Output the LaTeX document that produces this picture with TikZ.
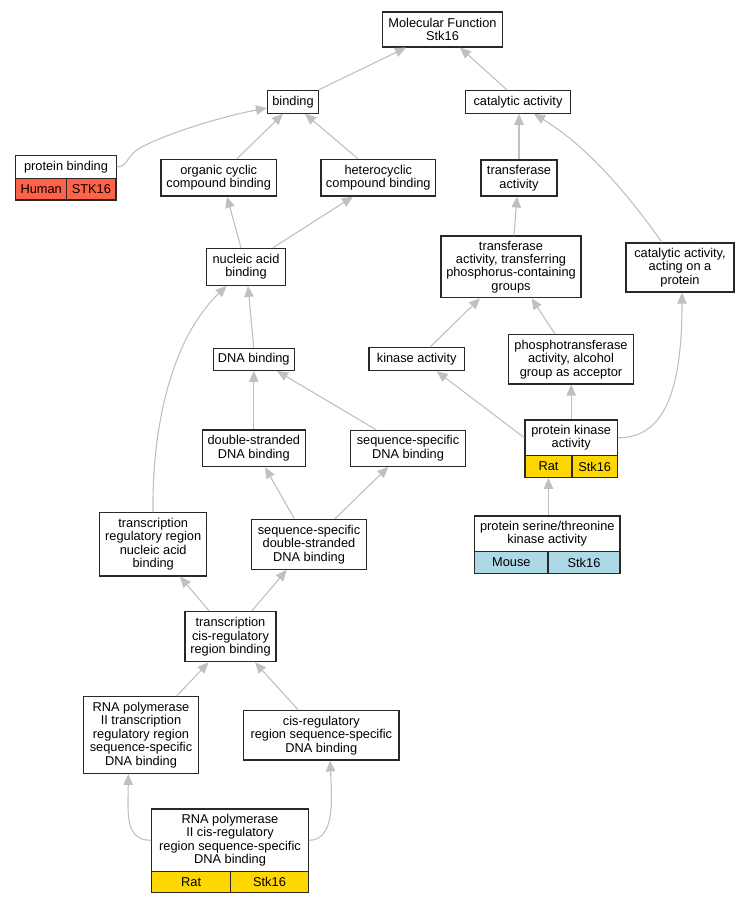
\documentclass[tikz,border=0pt]{standalone}
\usepackage{fontspec}
\setmainfont{Liberation Sans}
\usetikzlibrary{arrows.meta}
\definecolor{edgegray}{RGB}{192,192,192}
\definecolor{boxline}{RGB}{40,40,40}
\definecolor{tomatoc}{RGB}{255,99,71}
\definecolor{goldc}{RGB}{255,215,0}
\definecolor{lblue}{RGB}{173,216,230}
\begin{document}
\begin{tikzpicture}[x=1pt,y=-1pt,
  box/.style={draw=boxline, line width=1.2pt, fill=white, inner sep=0pt, align=center,
    font=\fontsize{12.8}{13.4}\selectfont},
  cell/.style={box},
  edge/.style={draw=edgegray, line width=1.1pt, -{Triangle[length=11pt,width=9.5pt,fill=edgegray]}}]
\useasboundingbox (0,0) rectangle (749,904);
% nodes
\node[box, minimum width=120pt, minimum height=35pt] (mf) at (442.5,29.5) {Molecular Function\\Stk16};
\node[box, minimum width=51pt, minimum height=23pt] (bind) at (293,101.7) {binding};
\node[box, minimum width=105.7pt, minimum height=23pt] (cat) at (518,101.7) {catalytic activity};
\node[box, minimum width=100.3pt, minimum height=22.6pt] (pb) at (66,167) {protein binding};
\node[cell, fill=tomatoc, minimum width=51pt, minimum height=21.7pt] (pbh) at (41.2,189.2) {Human};
\node[cell, fill=tomatoc, minimum width=49.3pt, minimum height=21.7pt] (pbs) at (91.35,189.2) {STK16};
\node[box, minimum width=115.3pt, minimum height=36.7pt] (org) at (218.7,177.7) {organic cyclic\\compound binding};
\node[box, minimum width=114.7pt, minimum height=36.7pt] (het) at (378.3,177.7) {heterocyclic\\compound binding};
\node[box, minimum width=76pt, minimum height=36pt] (tra) at (519,178) {transferase\\activity};
\node[box, minimum width=78.6pt, minimum height=37pt] (nuc) at (246,266.8) {nucleic acid\\binding};
\node[box, minimum width=140pt, minimum height=61.7pt] (trp) at (511,266.8) {transferase\\activity, transferring\\phosphorus-containing\\groups};
\node[box, minimum width=108pt, minimum height=49pt] (cap) at (680,267.5) {catalytic activity,\\acting on a\\protein};
\node[box, minimum width=81pt, minimum height=22pt] (dna) at (253.7,359.3) {DNA binding};
\node[box, minimum width=95.3pt, minimum height=23pt] (kin) at (416.7,359.2) {kinase activity};
\node[box, minimum width=124.3pt, minimum height=49.3pt] (pho) at (571,359.3) {phosphotransferase\\activity, alcohol\\group as acceptor};
\node[box, minimum width=103pt, minimum height=36.7pt] (ds) at (253.8,448.3) {double-stranded\\DNA binding};
\node[box, minimum width=114.3pt, minimum height=36pt] (ssd) at (408,448.3) {sequence-specific\\DNA binding};
\node[box, minimum width=92.3pt, minimum height=35.7pt] (pk) at (571.2,437.8) {protein kinase\\activity};
\node[cell, fill=goldc, minimum width=47pt, minimum height=21.6pt] (pkr) at (548.5,466.5) {Rat};
\node[cell, fill=goldc, minimum width=45.3pt, minimum height=21.6pt] (pks) at (594.65,466.5) {Stk16};
\node[box, minimum width=107pt, minimum height=63.3pt] (trg) at (153.2,544.3) {transcription\\regulatory region\\nucleic acid\\binding};
\node[box, minimum width=115.3pt, minimum height=50pt] (sds) at (309,544.3) {sequence-specific\\double-stranded\\DNA binding};
\node[box, minimum width=145.3pt, minimum height=35.7pt] (st) at (547.3,533.8) {protein serine/threonine\\kinase activity};
\node[cell, fill=lblue, minimum width=73.3pt, minimum height=21.6pt] (stm) at (511.35,562.5) {Mouse};
\node[cell, fill=lblue, minimum width=72pt, minimum height=21.6pt] (sts) at (584,562.5) {Stk16};
\node[box, minimum width=91pt, minimum height=50pt] (tcr) at (230.5,636.7) {transcription\\cis-regulatory\\region binding};
\node[box, minimum width=115.3pt, minimum height=76.7pt] (r2t) at (141,735) {RNA polymerase\\II transcription\\regulatory region\\sequence-specific\\DNA binding};
\node[box, minimum width=155.3pt, minimum height=49.3pt] (crs) at (321.3,735.3) {cis-regulatory\\region sequence-specific\\DNA binding};
\node[box, minimum width=156.6pt, minimum height=62.7pt] (r2c) at (230,840.3) {RNA polymerase\\II cis-regulatory\\region sequence-specific\\DNA binding};
\node[cell, fill=goldc, minimum width=79pt, minimum height=21pt] (r2cr) at (191.2,882.2) {Rat};
\node[cell, fill=goldc, minimum width=77.6pt, minimum height=21pt] (r2cs) at (269.5,882.2) {Stk16};
% edges
\draw[edge] (bind.north east) -- ([xshift=-36.5pt]mf.south);
\draw[edge] ([xshift=-11.3pt]cat.north) -- ([xshift=17.5pt]mf.south);
\draw[edge] (pb.east) .. controls (128,167) and (126,156) .. (140,148) .. controls (165,134) and (220,117) .. ([yshift=-6.3pt]bind.west);
\draw[edge] ([xshift=18.3pt]org.north) -- ([xshift=-10pt]bind.south);
\draw[edge] ([xshift=-20.3pt]het.north) -- ([xshift=12pt]bind.south);
\draw[edge] ([xshift=-5pt]nuc.north) -- ([xshift=8.3pt]org.south);
\draw[edge] ([xshift=27pt]nuc.north) -- ([xshift=-25.3pt]het.south);
\draw[edge] (tra.north) -- ([xshift=1pt]cat.south);
\draw[edge] ([xshift=-18pt]cap.north) .. controls (625,190) and (585,145) .. ([xshift=16pt]cat.south);
\draw[edge] ([xshift=3pt]trp.north) -- ([xshift=-2pt]tra.south);
\draw[edge] (dna.north) -- ([xshift=2pt]nuc.south);
\draw[edge] ([xshift=-0.2pt]trg.north) .. controls (152,430) and (170,340) .. ([xshift=-19.3pt]nuc.south);
\draw[edge] (ds.north) -- (ds.north |- dna.south);
\draw[edge] ([xshift=-32pt]ssd.north) -- ([xshift=23.3pt]dna.south);
\draw[edge] ([xshift=13.3pt]kin.north) -- ([xshift=-31pt]trp.south);
\draw[edge] ([xshift=-16pt]pho.north) -- ([xshift=20.5pt]trp.south);
\draw[edge] (pk.west) -- ([xshift=20pt]kin.south);
\draw[edge] (pk.north) -- (pk.north |- pho.south);
\draw[edge] (pk.east) .. controls (660,437.8) and (682,400) .. ([xshift=2pt]cap.south);
\draw[edge] (st.north -| pkr.south) -- (pkr.south);
\draw[edge] ([xshift=-14.7pt]sds.north) -- ([xshift=11.2pt]ds.south);
\draw[edge] ([xshift=26pt]sds.north) -- ([xshift=-19.7pt]ssd.south);
\draw[edge] ([xshift=-21.2pt]tcr.north) -- ([xshift=26.8pt]trg.south);
\draw[edge] ([xshift=21.2pt]tcr.north) -- ([xshift=-22.3pt]sds.south);
\draw[edge] ([xshift=35.7pt]r2t.north) -- ([xshift=-22pt]tcr.south);
\draw[edge] ([xshift=-23pt]crs.north) -- ([xshift=24.5pt]tcr.south);
\draw[edge] (r2c.west) .. controls (125,840.3) and (128,815) .. ([xshift=-12.7pt]r2t.south);
\draw[edge] (r2c.east) .. controls (335,840.3) and (332,800) .. ([xshift=8.7pt]crs.south);
\end{tikzpicture}
\end{document}
